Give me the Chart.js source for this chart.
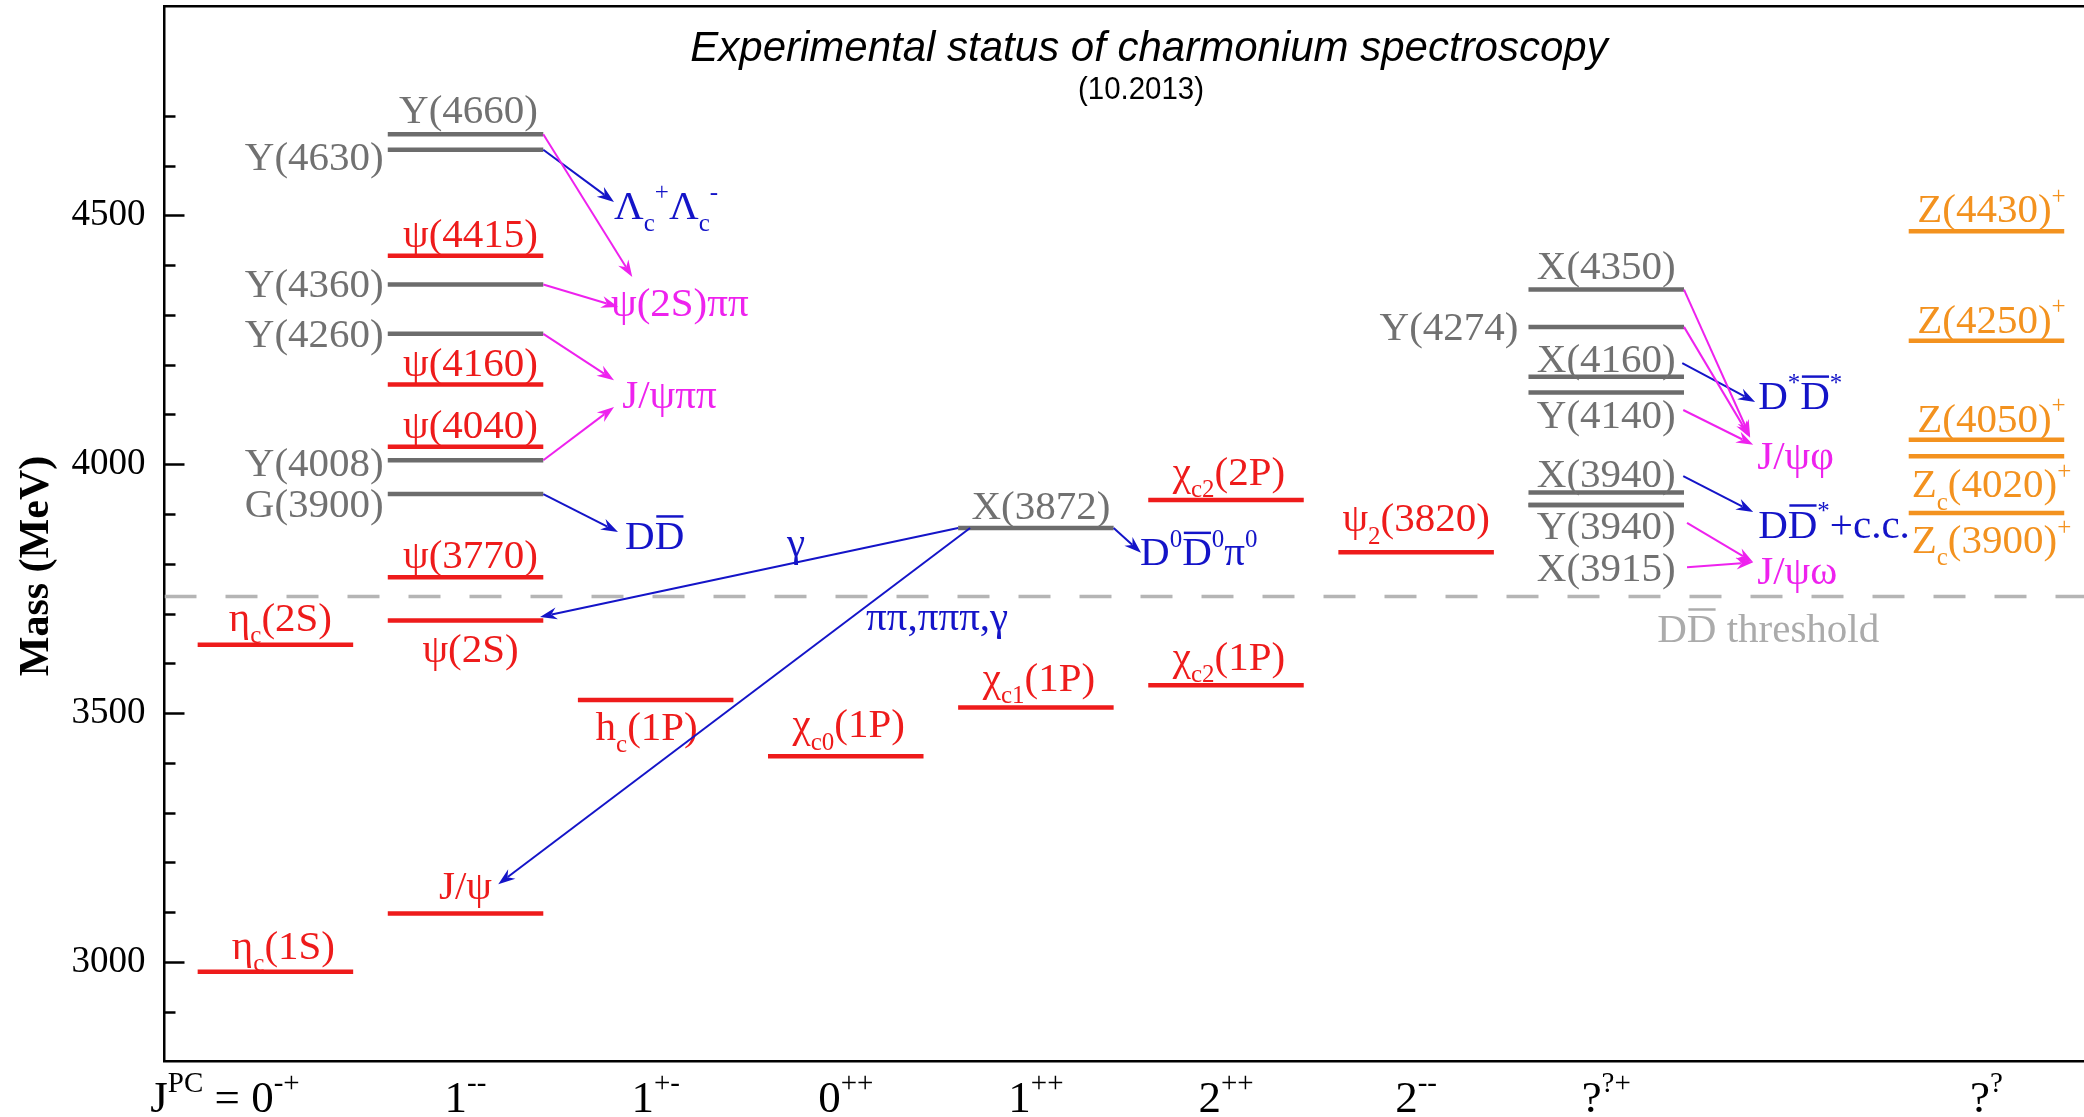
<!DOCTYPE html>
<html>
<head>
<meta charset="utf-8">
<script src="https://cdn.jsdelivr.net/npm/chart.js@4.4.1/dist/chart.umd.min.js"></script>
<style>
  html, body { margin: 0; padding: 0; background: #ffffff; }
  canvas { display: block; }
</style>
</head>
<body>
<canvas id="chart" width="2084" height="1117"></canvas>
<script>
// ---------------------------------------------------------------
// Data
// ---------------------------------------------------------------
// J^PC columns along the horizontal axis (column index -> label)
const jpcColumn = [0, 1, 2, 3, 4, 5, 6, 7, 9];
const jpcLabels = ['0^{-+}', '1^{--}', '1^{+-}', '0^{++}', '1^{++}', '2^{++}', '2^{--}', '?^{?+}', '?^{?}'];
const jpcPrefix = 'J^{PC} = ';

// Mass axis labels (MeV)
const massTicks = [3000, 3500, 4000, 4500];

// States: name (with _{sub} ^{sup} ~{overline} markup), column, mass (MeV), kind
const stateNames = [
  'η_{c}(1S)', 'η_{c}(2S)',
  'J/ψ', 'ψ(2S)', 'ψ(3770)', 'ψ(4040)', 'ψ(4160)', 'ψ(4415)',
  'G(3900)', 'Y(4008)', 'Y(4260)', 'Y(4360)', 'Y(4630)', 'Y(4660)',
  'h_{c}(1P)',
  'χ_{c0}(1P)',
  'χ_{c1}(1P)', 'X(3872)',
  'χ_{c2}(1P)', 'χ_{c2}(2P)',
  'ψ_{2}(3820)',
  'X(3915)', 'Y(3940)', 'X(3940)', 'Y(4140)', 'X(4160)', 'Y(4274)', 'X(4350)',
  'Z_{c}(3900)^{+}', 'Z_{c}(4020)^{+}', 'Z(4050)^{+}', 'Z(4250)^{+}', 'Z(4430)^{+}'
];
const stateColumn = [
  0, 0,
  1, 1, 1, 1, 1, 1,
  1, 1, 1, 1, 1, 1,
  2,
  3,
  4, 4,
  5, 5,
  6,
  7, 7, 7, 7, 7, 7, 7,
  9, 9, 9, 9, 9
];
const stateMass = [
  2980, 3637,
  3097, 3686, 3773, 4035, 4160, 4419,
  3940, 4008, 4262, 4361, 4632, 4663,
  3526,
  3413,
  3511, 3872,
  3556, 3928,
  3823,
  3918, 3918, 3943, 4144, 4176, 4276, 4351,
  3902, 4016, 4049, 4248, 4468
];
const stateKind = [
  'cc', 'cc',
  'cc', 'cc', 'cc', 'cc', 'cc', 'cc',
  'exotic', 'exotic', 'exotic', 'exotic', 'exotic', 'exotic',
  'cc',
  'cc',
  'cc', 'exotic',
  'cc', 'cc',
  'cc',
  'exotic', 'exotic', 'exotic', 'exotic', 'exotic', 'exotic', 'exotic',
  'charged', 'charged', 'charged', 'charged', 'charged'
];

// Open-charm threshold (MeV)
const ddThreshold = 3734;

// Final states
const productNames = ['Λ_{c}^{+}Λ_{c}^{-}', 'ψ(2S)ππ', 'J/ψππ', 'D~{D}', 'D^{0}~{D}^{0}π^{0}',
                      'D^{*}~{D}^{*}', 'J/ψφ', 'D~{D}^{*}+c.c.', 'J/ψω'];
const productKind = ['open', 'hidden', 'hidden', 'open', 'open', 'open', 'hidden', 'open', 'hidden'];

// Observed transitions: from state -> to final state (or to another state)
const decayFrom = ['Y(4630)', 'Y(4660)', 'Y(4360)', 'Y(4260)', 'Y(4008)', 'G(3900)',
                   'X(3872)', 'X(3872)', 'X(3872)',
                   'X(4160)', 'X(4350)', 'Y(4274)', 'Y(4140)', 'X(3940)', 'Y(3940)', 'X(3915)'];
const decayTo = ['Λ_{c}^{+}Λ_{c}^{-}', 'ψ(2S)ππ', 'ψ(2S)ππ', 'J/ψππ', 'J/ψππ', 'D~{D}',
                 'ψ(2S)', 'J/ψ', 'D^{0}~{D}^{0}π^{0}',
                 'D^{*}~{D}^{*}', 'J/ψφ', 'J/ψφ', 'J/ψφ', 'D~{D}^{*}+c.c.', 'J/ψω', 'J/ψω'];
const decayKind = ['open', 'hidden', 'hidden', 'hidden', 'hidden', 'open',
                   'open', 'open', 'open',
                   'open', 'hidden', 'hidden', 'hidden', 'open', 'hidden', 'hidden'];

// ---------------------------------------------------------------
// Layout and style
// ---------------------------------------------------------------
const SERIF = '"Liberation Serif", "Times New Roman", serif';
const SANS = '"Liberation Sans", Arial, sans-serif';
const KIND_COLOR = { cc: '#ee1b1b', exotic: '#6c6c6c', charged: '#f3921f' };
const KIND_TEXT = { cc: '#ee1b1b', exotic: '#717171', charged: '#f3921f' };
const DECAY_COLOR = { open: '#1414c8', hidden: '#ee22ee' };
const LEVEL_HALF = 0.409;          // half width of a level, in column units
const LEVEL_WIDTH = 4.5;           // px
const MAIN = 41;                   // label font size
const AXIS_LABEL = 45;             // J^PC label font size

// label placement per state: [where, dx px, baseline offset px from level]
const labelLayout = {
  'η_{c}(1S)': ['above', 8, -13], 'η_{c}(2S)': ['above', 5, -14],
  'J/ψ': ['above', 0, -15], 'ψ(2S)': ['below', 5, 42], 'ψ(3770)': ['above', 5, -9],
  'ψ(4040)': ['above', 5, -9], 'ψ(4160)': ['above', 5, -9], 'ψ(4415)': ['above', 5, -9],
  'G(3900)': ['left', 0, 23], 'Y(4008)': ['left', 0, 16], 'Y(4260)': ['left', 0, 13],
  'Y(4360)': ['left', 0, 12], 'Y(4630)': ['left', 0, 20], 'Y(4660)': ['above', 3, -11],
  'h_{c}(1P)': ['below', -9, 40], 'χ_{c0}(1P)': ['above', 3, -19],
  'χ_{c1}(1P)': ['above', 3, -17], 'X(3872)': ['above', 5, -9],
  'χ_{c2}(1P)': ['above', 3, -15], 'χ_{c2}(2P)': ['above', 3, -15],
  'ψ_{2}(3820)': ['above', 0, -21],
  'X(3915)': ['below', 0, 76], 'Y(3940)': ['below', 0, 34], 'X(3940)': ['above', 0, -6],
  'Y(4140)': ['below', 0, 35], 'X(4160)': ['above', 0, -5], 'Y(4274)': ['left', -6, 13],
  'X(4350)': ['above', 0, -11],
  'Z_{c}(3900)^{+}': ['below', 5, 40], 'Z_{c}(4020)^{+}': ['below', 5, 41],
  'Z(4050)^{+}': ['above', 5, -8], 'Z(4250)^{+}': ['above', 5, -8], 'Z(4430)^{+}': ['above', 5, -9]
};

// final-state text anchors: [left edge (column units), baseline (MeV)]
const productAnchor = {
  'Λ_{c}^{+}Λ_{c}^{-}': [1.781, 4493], 'ψ(2S)ππ': [1.765, 4298], 'J/ψππ': [1.824, 4113],
  'D~{D}': [1.839, 3830], 'D^{0}~{D}^{0}π^{0}': [4.548, 3797],
  'D^{*}~{D}^{*}': [7.799, 4111], 'J/ψφ': [7.794, 3990],
  'D~{D}^{*}+c.c.': [7.799, 3852], 'J/ψω': [7.794, 3759]
};

// arrow paths: start (null = right end of level, 'left' = left end, or [col, MeV]) and tip [col, MeV]
const arrowPath = [
  [null, [1.781, 4527]], [null, [1.877, 4376]], [null, [1.803, 4316]],
  [null, [1.781, 4169]], [null, [1.781, 4115]], [null, [1.802, 3864]],
  ['left', [1.392, 3693]], [[3.654, 3872], [1.172, 3156]], [null, [4.553, 3822]],
  [[7.40, 4203], [7.783, 4125]], [null, [7.757, 4055]], [null, [7.757, 4053]],
  [[7.405, 4109], [7.773, 4039]], [[7.405, 3976], [7.773, 3904]],
  [[7.425, 3882], [7.773, 3803]], [[7.425, 3793], [7.773, 3803]]
];

// transition captions and threshold caption: [text, left (column units), baseline (MeV), colour]
const captions = [
  ['γ', 2.691, 3815, DECAY_COLOR.open],
  ['ππ,πππ,γ', 3.107, 3667, DECAY_COLOR.open],
  ['D~{D} threshold', 7.268, 3643, '#ababab']
];

// ---------------------------------------------------------------
// Rich text: _{sub}, ^{sup}, ~{overlined}
// ---------------------------------------------------------------
function parseRich(s) {
  const out = [];
  let buf = '';
  let i = 0;
  const flush = () => { if (buf) { out.push({ t: buf, m: 'n' }); buf = ''; } };
  while (i < s.length) {
    const ch = s[i];
    if ((ch === '_' || ch === '^' || ch === '~') && s[i + 1] === '{') {
      flush();
      const end = s.indexOf('}', i + 2);
      out.push({ t: s.slice(i + 2, end), m: ch === '_' ? 'sub' : ch === '^' ? 'sup' : 'over' });
      i = end + 1;
    } else {
      buf += ch;
      i++;
    }
  }
  flush();
  return out;
}

function segFont(seg, size, o) {
  const small = o.small || 0.62;
  const sz = (seg.m === 'sub' || seg.m === 'sup') ? Math.round(size * small) : size;
  return `${o.style || 'normal'} ${sz}px ${o.family || SERIF}`;
}

function richWidth(ctx, str, size, o) {
  let w = 0;
  for (const seg of parseRich(str)) {
    ctx.font = segFont(seg, size, o);
    w += ctx.measureText(seg.t).width;
  }
  return w;
}

function drawRich(ctx, str, x, y, o) {
  const size = o.size || MAIN;
  const w = richWidth(ctx, str, size, o);
  let cx = x;
  if (o.align === 'center') cx = x - w / 2;
  else if (o.align === 'right') cx = x - w;
  ctx.save();
  ctx.fillStyle = o.color;
  ctx.strokeStyle = o.color;
  ctx.textBaseline = 'alphabetic';
  ctx.textAlign = 'left';
  for (const seg of parseRich(str)) {
    ctx.font = segFont(seg, size, o);
    const sw = ctx.measureText(seg.t).width;
    let yy = y;
    if (seg.m === 'sub') yy = y + size * 0.3;
    if (seg.m === 'sup') yy = y - size * 0.45;
    ctx.fillText(seg.t, cx, yy);
    if (seg.m === 'over') {
      ctx.lineWidth = size * 0.06;
      ctx.beginPath();
      const oy = y - size * 0.66 - size * 0.13;
      ctx.moveTo(cx + size * 0.04, oy);
      ctx.lineTo(cx + sw - size * 0.02, oy);
      ctx.stroke();
    }
    cx += sw;
  }
  ctx.restore();
  return w;
}

function drawArrow(ctx, x0, y0, x1, y1, color) {
  const a = Math.atan2(y1 - y0, x1 - x0);
  const c = Math.cos(a), s = Math.sin(a);
  const L = 17, W = 6;
  ctx.save();
  ctx.strokeStyle = color;
  ctx.fillStyle = color;
  ctx.lineWidth = 2;
  ctx.beginPath();
  ctx.moveTo(x0, y0);
  ctx.lineTo(x1 - L * 0.7 * c, y1 - L * 0.7 * s);
  ctx.stroke();
  ctx.beginPath();
  ctx.moveTo(x1, y1);
  ctx.lineTo(x1 - L * c + W * s, y1 - L * s - W * c);
  ctx.lineTo(x1 - L * 0.68 * c, y1 - L * 0.68 * s);
  ctx.lineTo(x1 - L * c - W * s, y1 - L * s + W * c);
  ctx.closePath();
  ctx.fill();
  ctx.restore();
}

// ---------------------------------------------------------------
// Datasets: one short horizontal segment per state, plus threshold
// ---------------------------------------------------------------
const X_MIN = -0.5834, X_MAX = 9.513;
const datasets = [{
  label: 'threshold',
  data: [{ x: X_MIN, y: ddThreshold }, { x: X_MAX, y: ddThreshold }],
  borderColor: '#b5b5b5',
  borderWidth: 3.5,
  borderDash: [32, 29],
  pointRadius: 0,
  showLine: true
}];
stateNames.forEach((name, i) => {
  datasets.push({
    label: name,
    data: [
      { x: stateColumn[i] - LEVEL_HALF, y: stateMass[i] },
      { x: stateColumn[i] + LEVEL_HALF, y: stateMass[i] }
    ],
    borderColor: KIND_COLOR[stateKind[i]],
    borderWidth: LEVEL_WIDTH,
    borderCapStyle: 'butt',
    pointRadius: 0,
    showLine: true
  });
});

// ---------------------------------------------------------------
// Annotation plugin: ticks, labels, arrows, titles
// ---------------------------------------------------------------
const annotations = {
  id: 'spectrumAnnotations',
  afterDraw(chart) {
    const { ctx, chartArea: area } = chart;
    const xs = chart.scales.x, ys = chart.scales.y;
    const px = c => xs.getPixelForValue(c);
    const py = m => ys.getPixelForValue(m);

    // inward tick marks on the mass axis
    ctx.save();
    ctx.strokeStyle = '#000';
    ctx.lineWidth = 2.5;
    for (let v = 2900; v <= 4700; v += 100) {
      const len = massTicks.includes(v) ? 20 : 11;
      const y = Math.round(py(v)) + 0.5;
      ctx.beginPath();
      ctx.moveTo(area.left, y);
      ctx.lineTo(area.left + len, y);
      ctx.stroke();
    }
    ctx.restore();

    // state labels
    const half = px(LEVEL_HALF) - px(0);
    stateNames.forEach((name, i) => {
      const [where, dx, dy] = labelLayout[name];
      const cx = px(stateColumn[i]);
      const y = py(stateMass[i]) + dy;
      const color = KIND_TEXT[stateKind[i]];
      if (where === 'left') {
        drawRich(ctx, name, cx - half - 4 + dx, y, { align: 'right', color });
      } else {
        drawRich(ctx, name, cx + dx, y, { align: 'center', color });
      }
    });

    // final states
    productNames.forEach((name, i) => {
      const [c, m] = productAnchor[name];
      drawRich(ctx, name, px(c), py(m), { align: 'left', color: DECAY_COLOR[productKind[i]] });
    });

    // transition arrows
    decayFrom.forEach((from, i) => {
      const si = stateNames.indexOf(from);
      const [start, tip] = arrowPath[i];
      let x0, y0;
      if (start === null) { x0 = px(stateColumn[si] + LEVEL_HALF); y0 = py(stateMass[si]); }
      else if (start === 'left') { x0 = px(stateColumn[si] - LEVEL_HALF); y0 = py(stateMass[si]); }
      else { x0 = px(start[0]); y0 = py(start[1]); }
      drawArrow(ctx, x0, y0, px(tip[0]), py(tip[1]), DECAY_COLOR[decayKind[i]]);
    });

    // captions
    captions.forEach(([text, c, m, color]) => {
      drawRich(ctx, text, px(c), py(m), { align: 'left', color });
    });

    // J^PC labels under the axis
    const jpcOpts = { size: AXIS_LABEL, small: 0.64, color: '#000' };
    jpcColumn.forEach((c, i) => {
      const x = px(c);
      const w = drawRich(ctx, jpcLabels[i], x, 1112, Object.assign({ align: 'center' }, jpcOpts));
      if (i === 0) drawRich(ctx, jpcPrefix, x - w / 2, 1112, Object.assign({ align: 'right' }, jpcOpts));
    });

    // title
    ctx.save();
    ctx.fillStyle = '#000';
    ctx.textAlign = 'center';
    ctx.textBaseline = 'alphabetic';
    ctx.font = `italic 42px ${SANS}`;
    ctx.fillText('Experimental status of charmonium spectroscopy', 1149, 61);
    ctx.translate(1141, 99);
    ctx.scale(0.92, 1);
    ctx.font = `32px ${SANS}`;
    ctx.fillText('(10.2013)', 0, 0);
    ctx.restore();

    // mass axis title
    ctx.save();
    ctx.translate(37, 566);
    ctx.rotate(-Math.PI / 2);
    ctx.fillStyle = '#000';
    ctx.textAlign = 'center';
    ctx.textBaseline = 'middle';
    ctx.font = `bold 42px ${SERIF}`;
    ctx.fillText('Mass (MeV)', 0, 0);
    ctx.restore();
  }
};

// ---------------------------------------------------------------
// Chart
// ---------------------------------------------------------------
const plainAxis = {
  type: 'linear',
  min: X_MIN,
  max: X_MAX,
  grid: { display: false, drawTicks: false },
  ticks: { display: false },
  border: { display: true, color: '#000', width: 2.5 }
};

new Chart(document.getElementById('chart'), {
  type: 'scatter',
  data: { datasets },
  options: {
    responsive: false,
    animation: false,
    events: [],
    layout: { padding: 0 },
    plugins: { legend: { display: false }, tooltip: { enabled: false } },
    scales: {
      x: Object.assign({}, plainAxis, {
        position: 'bottom',
        afterFit(s) { s.height = 55.6; s.paddingLeft = 0; s.paddingRight = 0; }
      }),
      xTop: Object.assign({}, plainAxis, {
        position: 'top',
        axis: 'x',
        afterFit(s) { s.height = 6.4; s.paddingLeft = 0; s.paddingRight = 0; }
      }),
      y: {
        type: 'linear',
        min: 2800,
        max: 4920,
        afterBuildTicks(s) { s.ticks = massTicks.map(v => ({ value: v })); },
        afterFit(s) { s.width = 164.5; s.paddingTop = 0; s.paddingBottom = 0; },
        grid: { display: false, drawTicks: false },
        border: { display: true, color: '#000', width: 2.5 },
        ticks: {
          autoSkip: false,
          padding: 19,
          color: '#000',
          font: { family: SERIF, size: 37 },
          callback: v => String(v)
        }
      }
    }
  },
  plugins: [annotations]
});
</script>
</body>
</html>
